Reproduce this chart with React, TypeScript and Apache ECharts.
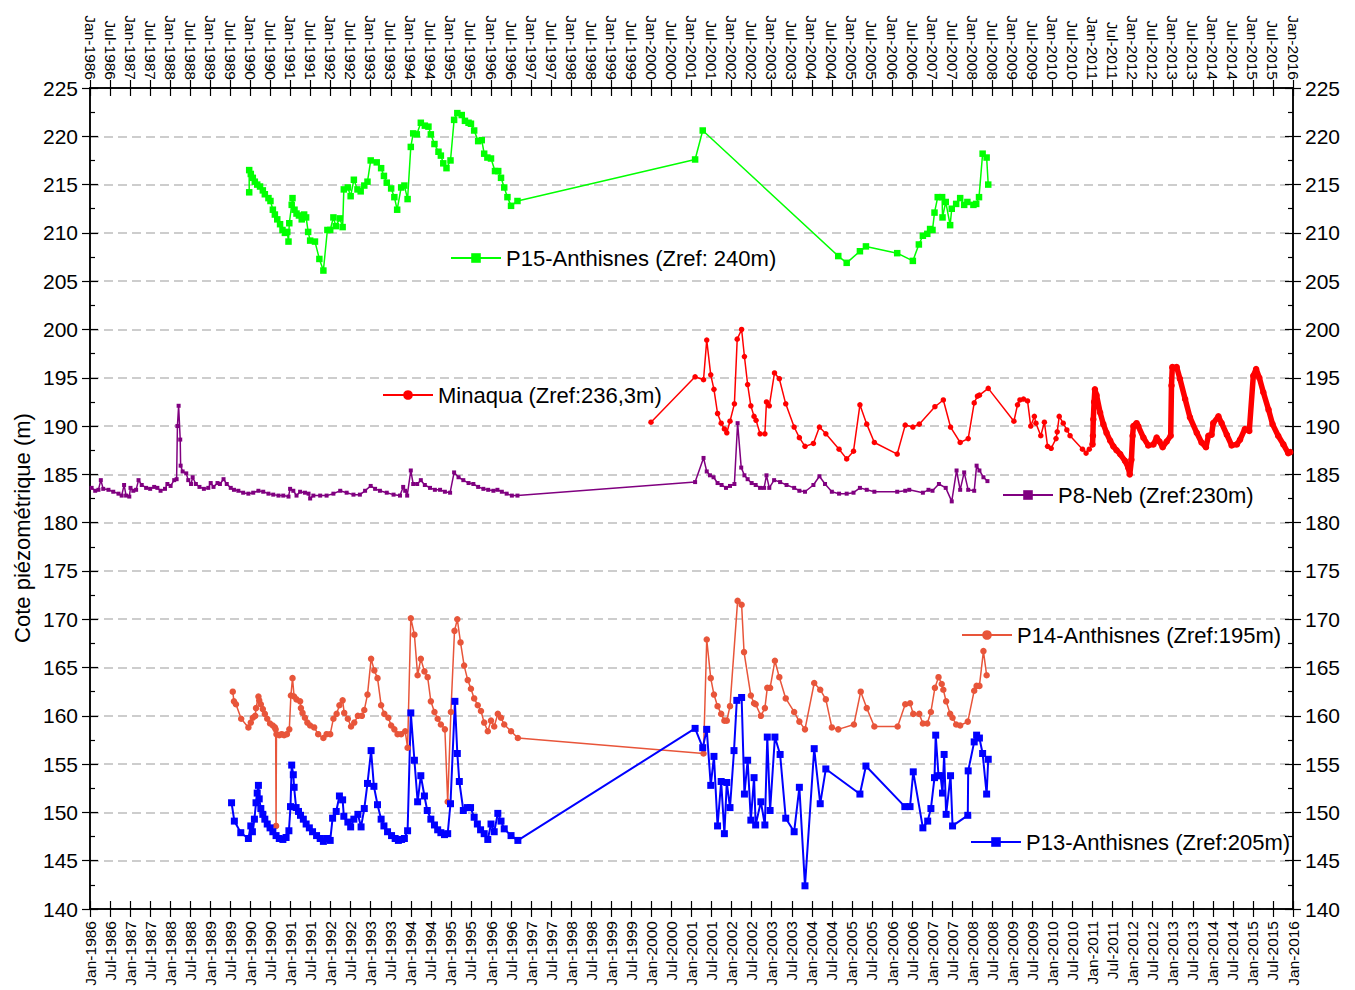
import React, { useEffect, useRef } from 'react';
import * as echarts from 'echarts';

const FONT = 'Arial, "Liberation Sans", sans-serif';

const xMin = 1986;
const xMax = 2016;
const xStep = 0.5;
const yMin = 140;
const yMax = 225;
const yStep = 5;

const yTitle = 'Cote piézométrique (m)';
const nP15 = 'P15-Anthisnes (Zref: 240m)';
const nMin = 'Minaqua (Zref:236,3m)';
const nP8 = 'P8-Neb (Zref:230m)';
const nP14 = 'P14-Anthisnes (Zref:195m)';
const nP13 = 'P13-Anthisnes (Zref:205m)';

// [decimal year, level (m)]
const p15: number[][] = [
  [1989.97, 214.2], [1989.97, 216.5], [1990.01, 216.1], [1990.06, 215.7], [1990.11, 215.3], [1990.17, 215.0], [1990.24, 214.8], [1990.31, 214.4], [1990.36, 214.0], [1990.45, 213.6],
  [1990.5, 213.3], [1990.56, 212.4], [1990.61, 211.9], [1990.67, 211.4], [1990.74, 210.9], [1990.8, 210.3], [1990.86, 210.0], [1990.92, 210.1], [1990.95, 209.1], [1990.97, 211.0],
  [1991.03, 212.9], [1991.05, 213.6], [1991.1, 212.4], [1991.15, 212.0], [1991.21, 211.8], [1991.28, 211.4], [1991.34, 211.9], [1991.39, 211.6], [1991.44, 210.1], [1991.49, 209.2],
  [1991.61, 209.1], [1991.72, 207.3], [1991.82, 206.1], [1991.92, 210.3], [1991.99, 210.3], [1992.07, 211.6], [1992.13, 210.7], [1992.23, 211.5], [1992.3, 210.6], [1992.33, 214.5],
  [1992.43, 214.7], [1992.5, 213.8], [1992.58, 215.5], [1992.67, 214.5], [1992.75, 214.3], [1992.84, 214.9], [1992.92, 215.3], [1993.0, 217.5], [1993.15, 217.3], [1993.26, 216.7],
  [1993.33, 215.9], [1993.4, 215.2], [1993.51, 214.6], [1993.59, 213.7], [1993.66, 212.4], [1993.76, 214.7], [1993.84, 214.9], [1993.92, 213.5], [1994.0, 218.9], [1994.06, 220.3],
  [1994.15, 220.2], [1994.25, 221.4], [1994.35, 221.1], [1994.44, 221.0], [1994.5, 220.2], [1994.59, 219.2], [1994.69, 218.4], [1994.75, 218.0], [1994.81, 217.2], [1994.89, 216.7],
  [1994.99, 217.5], [1995.08, 221.7], [1995.16, 222.4], [1995.27, 222.2], [1995.35, 221.6], [1995.44, 221.4], [1995.5, 221.3], [1995.58, 220.6], [1995.68, 219.5], [1995.77, 219.6],
  [1995.83, 218.2], [1995.91, 217.8], [1996.0, 217.7], [1996.1, 216.4], [1996.18, 216.4], [1996.25, 215.7], [1996.33, 214.7], [1996.41, 213.7], [1996.5, 212.8], [1996.66, 213.3],
  [2001.09, 217.6], [2001.28, 220.6], [2004.66, 207.6], [2004.87, 206.9], [2005.2, 208.1], [2005.35, 208.6], [2006.13, 207.9], [2006.52, 207.1], [2006.67, 208.8], [2006.77, 209.7],
  [2006.88, 209.9], [2006.95, 210.4], [2007.01, 210.3], [2007.06, 212.1], [2007.14, 213.7], [2007.25, 213.7], [2007.26, 211.6], [2007.34, 213.2], [2007.45, 210.8], [2007.49, 212.5],
  [2007.6, 213.0], [2007.7, 213.6], [2007.8, 212.9], [2007.88, 213.2], [2008.03, 212.9], [2008.1, 213.0], [2008.17, 213.7], [2008.26, 218.2], [2008.36, 217.8], [2008.4, 215.0],
];

const minaquaSparse: number[][] = [
  [1999.99, 190.4], [2001.09, 195.1], [2001.3, 194.8], [2001.38, 198.9], [2001.48, 195.3], [2001.56, 193.8], [2001.65, 191.3], [2001.74, 190.3], [2001.82, 189.7], [2001.88, 189.3],
  [2001.96, 190.5], [2002.07, 192.3], [2002.14, 199.0], [2002.25, 200.0], [2002.32, 197.2], [2002.4, 194.3], [2002.48, 192.1], [2002.56, 191.0], [2002.61, 190.6], [2002.71, 189.2],
  [2002.83, 189.2], [2002.87, 192.5], [2002.94, 192.1], [2003.07, 195.5], [2003.19, 194.9], [2003.35, 192.3], [2003.56, 189.9], [2003.69, 188.8], [2003.83, 187.9], [2004.04, 188.2],
  [2004.19, 189.9], [2004.35, 189.2], [2004.68, 187.6], [2004.87, 186.6], [2005.04, 187.4], [2005.2, 192.2], [2005.37, 190.2], [2005.56, 188.3], [2006.13, 187.1], [2006.33, 190.1],
  [2006.52, 189.9], [2006.68, 190.2], [2007.07, 192.0], [2007.28, 192.7], [2007.46, 189.9], [2007.7, 188.3], [2007.9, 188.7], [2008.05, 192.4], [2008.13, 193.1], [2008.18, 193.2],
  [2008.4, 193.9], [2009.04, 190.5], [2009.13, 192.2], [2009.19, 192.7], [2009.28, 192.8], [2009.38, 192.6], [2009.46, 190.0], [2009.55, 191.0], [2009.59, 190.3], [2009.71, 189.0],
  [2009.8, 190.4], [2009.88, 187.9], [2009.97, 187.7], [2010.09, 188.7], [2010.12, 189.4], [2010.17, 191.0], [2010.27, 190.3], [2010.36, 189.6], [2010.44, 189.0], [2010.75, 187.6],
  [2010.84, 187.2], [2010.92, 187.6], [2011.0, 188.1],
];

const minaquaDense: number[][] = [
  [2011.0, 188.1], [2011.01, 189.0], [2011.02, 190.7], [2011.04, 192.5], [2011.06, 193.8], [2011.1, 193.2], [2011.19, 191.4], [2011.27, 190.2], [2011.35, 189.3], [2011.44, 188.5],
  [2011.52, 187.9], [2011.6, 187.5], [2011.69, 187.1], [2011.81, 186.4], [2011.89, 185.7], [2011.93, 185.0], [2011.97, 186.5], [2012.0, 189.0], [2012.02, 190.0], [2012.1, 190.3],
  [2012.14, 190.0], [2012.27, 188.8], [2012.39, 188.0], [2012.52, 188.1], [2012.6, 188.8], [2012.67, 188.4], [2012.75, 187.8], [2012.85, 188.4], [2012.95, 189.0], [2012.97, 194.2],
  [2012.99, 196.1], [2013.1, 196.1], [2013.18, 194.9], [2013.31, 192.8], [2013.43, 190.9], [2013.6, 189.3], [2013.72, 188.3], [2013.83, 187.8], [2013.89, 189.0], [2013.97, 189.1],
  [2014.01, 190.3], [2014.14, 191.0], [2014.22, 190.3], [2014.35, 189.1], [2014.47, 188.0], [2014.6, 188.1], [2014.68, 188.6], [2014.8, 189.7], [2014.91, 189.5], [2015.01, 195.2],
  [2015.08, 195.9], [2015.16, 195.0], [2015.26, 193.5], [2015.39, 191.7], [2015.49, 190.2], [2015.63, 189.0], [2015.76, 188.1], [2015.88, 187.2], [2015.93, 187.3],
];

const p8: number[][] = [
  [1986.04, 183.6], [1986.13, 183.3], [1986.21, 183.4], [1986.27, 184.4], [1986.33, 183.5], [1986.46, 183.4], [1986.58, 183.2], [1986.71, 183.0], [1986.79, 182.8], [1986.85, 183.9],
  [1986.9, 182.8], [1986.98, 182.7], [1987.01, 183.6], [1987.08, 183.3], [1987.15, 183.4], [1987.21, 184.4], [1987.29, 183.9], [1987.4, 183.6], [1987.5, 183.5], [1987.6, 183.7],
  [1987.68, 183.6], [1987.76, 183.3], [1987.87, 183.5], [1987.93, 184.0], [1988.01, 183.8], [1988.1, 184.4], [1988.16, 184.5], [1988.18, 190.0], [1988.21, 192.1], [1988.25, 188.6],
  [1988.26, 185.9], [1988.31, 185.3], [1988.4, 185.1], [1988.45, 184.4], [1988.52, 184.0], [1988.56, 184.7], [1988.64, 184.0], [1988.73, 183.7], [1988.84, 183.5], [1988.95, 183.6],
  [1989.01, 184.1], [1989.08, 183.7], [1989.18, 184.1], [1989.24, 184.0], [1989.33, 184.5], [1989.41, 184.0], [1989.51, 183.6], [1989.59, 183.4], [1989.7, 183.3], [1989.82, 183.1],
  [1989.95, 183.0], [1990.07, 183.1], [1990.2, 183.3], [1990.32, 183.2], [1990.45, 183.0], [1990.57, 182.9], [1990.7, 182.8], [1990.82, 182.8], [1990.95, 182.7], [1990.99, 183.5],
  [1991.07, 183.3], [1991.15, 182.8], [1991.24, 183.2], [1991.36, 183.1], [1991.45, 183.0], [1991.49, 182.5], [1991.57, 182.8], [1991.74, 182.8], [1991.9, 182.8], [1992.07, 183.0],
  [1992.24, 183.3], [1992.4, 183.1], [1992.57, 182.9], [1992.73, 182.9], [1992.86, 183.3], [1993.0, 183.8], [1993.11, 183.5], [1993.23, 183.3], [1993.4, 183.1], [1993.57, 182.9],
  [1993.73, 182.8], [1993.81, 183.7], [1993.86, 183.3], [1993.91, 182.8], [1994.0, 185.4], [1994.06, 184.0], [1994.16, 184.0], [1994.25, 184.4], [1994.35, 183.9], [1994.48, 183.6],
  [1994.6, 183.4], [1994.73, 183.4], [1994.85, 183.2], [1994.98, 183.1], [1995.08, 185.2], [1995.19, 184.7], [1995.31, 184.4], [1995.44, 184.1], [1995.56, 184.0], [1995.68, 183.7],
  [1995.81, 183.5], [1995.93, 183.4], [1996.06, 183.3], [1996.16, 183.4], [1996.27, 183.2], [1996.39, 183.0], [1996.52, 182.8], [1996.66, 182.8],
  [2001.09, 184.2], [2001.3, 186.7], [2001.38, 185.3], [2001.46, 184.9], [2001.55, 184.7], [2001.65, 184.1], [2001.75, 183.9], [2001.86, 183.6], [2001.96, 183.8], [2002.07, 184.0],
  [2002.15, 190.3], [2002.24, 185.7], [2002.32, 184.9], [2002.4, 184.5], [2002.5, 184.1], [2002.6, 183.9], [2002.71, 183.6], [2002.81, 183.6], [2002.87, 184.9], [2002.94, 183.6],
  [2003.06, 184.4], [2003.21, 184.2], [2003.37, 183.9], [2003.56, 183.6], [2003.69, 183.3], [2003.83, 183.2], [2004.04, 183.9], [2004.19, 184.8], [2004.33, 184.0], [2004.5, 183.2],
  [2004.68, 183.0], [2004.87, 183.0], [2005.04, 183.1], [2005.2, 183.6], [2005.37, 183.4], [2005.56, 183.2], [2006.13, 183.2], [2006.33, 183.3], [2006.43, 183.4], [2006.77, 183.1],
  [2006.91, 183.4], [2007.01, 183.3], [2007.17, 184.0], [2007.34, 183.6], [2007.49, 182.2], [2007.61, 185.4], [2007.7, 183.4], [2007.8, 185.2], [2007.9, 183.4], [2008.05, 183.3],
  [2008.11, 185.9], [2008.18, 185.4], [2008.28, 184.7], [2008.38, 184.3],
];

const p14: number[][] = [
  [1989.56, 162.5], [1989.59, 161.5], [1989.64, 161.2], [1989.77, 159.7], [1989.95, 158.8], [1990.01, 159.3], [1990.06, 159.8], [1990.12, 160.0], [1990.14, 160.8], [1990.2, 162.0],
  [1990.22, 161.6], [1990.26, 161.2], [1990.31, 160.7], [1990.36, 160.2], [1990.42, 159.7], [1990.49, 159.2], [1990.56, 159.0], [1990.61, 158.8], [1990.63, 158.6], [1990.64, 148.6],
  [1990.65, 158.1], [1990.72, 158.0], [1990.78, 158.1], [1990.84, 158.0], [1990.91, 158.1], [1990.97, 158.6], [1991.01, 162.1], [1991.05, 163.9], [1991.09, 162.0], [1991.15, 161.7],
  [1991.24, 161.5], [1991.26, 160.8], [1991.3, 160.3], [1991.36, 159.8], [1991.42, 159.3], [1991.49, 159.0], [1991.59, 158.8], [1991.69, 158.1], [1991.82, 157.7], [1991.9, 158.1],
  [1991.99, 158.1], [1992.07, 159.7], [1992.15, 160.2], [1992.22, 161.1], [1992.3, 161.6], [1992.34, 160.3], [1992.43, 159.7], [1992.51, 158.9], [1992.59, 159.3], [1992.68, 160.0],
  [1992.78, 160.0], [1992.84, 160.6], [1992.92, 162.2], [1993.01, 165.9], [1993.09, 164.7], [1993.17, 163.9], [1993.26, 161.1], [1993.34, 160.2], [1993.44, 159.8], [1993.51, 159.0],
  [1993.59, 158.6], [1993.67, 158.1], [1993.76, 158.1], [1993.86, 158.4], [1993.92, 156.7], [1994.0, 170.1], [1994.09, 168.4], [1994.17, 164.2], [1994.25, 165.9], [1994.34, 164.6],
  [1994.42, 164.0], [1994.5, 161.5], [1994.59, 160.4], [1994.67, 159.7], [1994.75, 159.1], [1994.85, 158.6], [1994.92, 151.1], [1995.0, 160.4], [1995.09, 168.8], [1995.16, 170.0],
  [1995.24, 167.6], [1995.33, 165.2], [1995.42, 163.7], [1995.5, 162.8], [1995.58, 161.8], [1995.67, 161.1], [1995.75, 160.5], [1995.83, 159.3], [1995.92, 158.4], [1996.0, 159.5],
  [1996.08, 158.9], [1996.17, 160.2], [1996.25, 159.8], [1996.33, 159.1], [1996.5, 158.4], [1996.67, 157.7],
  [2001.3, 156.1], [2001.38, 167.9], [2001.48, 163.9], [2001.56, 162.2], [2001.65, 161.0], [2001.74, 160.2], [2001.82, 159.5], [2001.88, 159.5], [2001.96, 161.0], [2002.15, 171.9],
  [2002.25, 171.5], [2002.31, 166.6], [2002.48, 162.1], [2002.56, 161.3], [2002.6, 161.2], [2002.73, 160.0], [2002.83, 160.8], [2002.89, 162.9], [2002.96, 162.9], [2003.08, 165.7],
  [2003.19, 164.0], [2003.35, 161.8], [2003.56, 160.4], [2003.69, 159.4], [2003.83, 158.6], [2004.06, 163.4], [2004.21, 162.7], [2004.35, 161.7], [2004.5, 158.8], [2004.66, 158.6],
  [2005.05, 159.1], [2005.22, 162.5], [2005.37, 160.8], [2005.56, 158.9], [2006.14, 158.9], [2006.33, 161.2], [2006.45, 161.3], [2006.53, 160.2], [2006.68, 160.2], [2006.77, 159.2],
  [2006.88, 159.2], [2006.97, 160.4], [2007.07, 162.9], [2007.16, 164.0], [2007.24, 163.3], [2007.28, 162.7], [2007.35, 161.5], [2007.45, 160.2], [2007.51, 159.8], [2007.6, 159.1],
  [2007.7, 159.0], [2007.89, 159.4], [2008.05, 162.6], [2008.11, 163.1], [2008.18, 163.1], [2008.28, 166.7], [2008.36, 164.2],
];

const p13: number[][] = [
  [1989.53, 151.0], [1989.6, 149.1], [1989.76, 147.9], [1989.95, 147.3], [1990.01, 148.6], [1990.05, 148.0], [1990.1, 149.3], [1990.14, 151.0], [1990.17, 152.0], [1990.2, 152.8],
  [1990.22, 151.4], [1990.26, 150.4], [1990.31, 149.8], [1990.36, 149.3], [1990.42, 148.8], [1990.49, 148.4], [1990.56, 148.0], [1990.64, 147.6], [1990.72, 147.3], [1990.81, 147.2],
  [1990.89, 147.4], [1990.96, 148.1], [1991.0, 150.6], [1991.03, 154.9], [1991.07, 153.9], [1991.09, 152.6], [1991.14, 150.5], [1991.2, 150.1], [1991.25, 149.7], [1991.32, 149.3],
  [1991.39, 148.8], [1991.47, 148.4], [1991.55, 148.0], [1991.65, 147.6], [1991.74, 147.3], [1991.82, 147.0], [1991.9, 147.3], [1991.99, 147.1], [1992.05, 149.4], [1992.14, 150.1],
  [1992.22, 151.7], [1992.3, 151.3], [1992.33, 149.6], [1992.43, 149.0], [1992.5, 148.5], [1992.58, 149.3], [1992.68, 149.8], [1992.76, 148.5], [1992.84, 150.4], [1992.92, 153.0],
  [1993.01, 156.4], [1993.08, 152.7], [1993.17, 150.8], [1993.26, 149.3], [1993.33, 148.6], [1993.42, 148.0], [1993.52, 147.6], [1993.61, 147.3], [1993.69, 147.1], [1993.77, 147.2],
  [1993.84, 147.3], [1993.92, 148.1], [1994.0, 160.3], [1994.09, 155.4], [1994.17, 151.1], [1994.25, 153.8], [1994.34, 151.7], [1994.41, 150.2], [1994.5, 149.3], [1994.59, 148.7],
  [1994.67, 148.2], [1994.75, 147.9], [1994.84, 147.7], [1994.92, 147.8], [1994.99, 150.9], [1995.1, 161.5], [1995.16, 156.1], [1995.21, 153.2], [1995.31, 150.2], [1995.41, 150.5],
  [1995.49, 150.5], [1995.58, 149.5], [1995.66, 148.8], [1995.74, 148.2], [1995.83, 147.8], [1995.92, 147.2], [1996.0, 148.8], [1996.08, 148.0], [1996.17, 149.9], [1996.25, 149.1],
  [1996.33, 148.3], [1996.5, 147.6], [1996.67, 147.1],
  [2001.09, 158.7], [2001.28, 156.7], [2001.38, 158.6], [2001.48, 152.8], [2001.56, 155.8], [2001.65, 148.6], [2001.74, 153.2], [2001.82, 147.8], [2001.88, 153.1], [2001.96, 150.5],
  [2002.06, 156.4], [2002.13, 161.6], [2002.25, 161.9], [2002.32, 151.9], [2002.4, 155.4], [2002.48, 149.2], [2002.56, 153.6], [2002.6, 148.7], [2002.73, 151.1], [2002.83, 148.7],
  [2002.89, 157.8], [2002.96, 150.2], [2003.08, 157.8], [2003.21, 156.0], [2003.35, 149.4], [2003.56, 148.0], [2003.69, 152.6], [2003.83, 142.4], [2004.06, 156.6], [2004.21, 150.9],
  [2004.35, 154.5], [2005.2, 151.9], [2005.35, 154.8], [2006.32, 150.6], [2006.45, 150.6], [2006.53, 154.2], [2006.77, 148.4], [2006.89, 149.1], [2006.97, 150.4], [2007.06, 153.6],
  [2007.09, 158.0], [2007.16, 153.8], [2007.21, 153.8], [2007.26, 152.0], [2007.3, 156.0], [2007.35, 149.8], [2007.46, 153.8], [2007.51, 148.6], [2007.89, 149.7], [2007.9, 154.3],
  [2008.05, 157.3], [2008.11, 158.0], [2008.18, 157.7], [2008.26, 156.1], [2008.36, 151.9], [2008.4, 155.5],
];

function dateLabel(v: number): string {
  const h = Math.round(v * 2);
  return (h % 2 === 0 ? 'Jan-' : 'Jul-') + Math.floor(h / 2);
}

export default function App() {
  const ref = useRef<HTMLDivElement>(null);
  useEffect(() => {
    const chart = echarts.init(ref.current as HTMLDivElement, null, { renderer: 'svg' });
    const axisLine = { show: true, lineStyle: { color: '#000', width: 1.5 } };
    const tickLine = { color: '#000', width: 1.2 };
    const xBase = {
      type: 'value', min: xMin, max: xMax, interval: xStep,
      axisLine, splitLine: { show: false },
    };
    const xLabel = (margin: number) => ({
      show: true, rotate: 90, margin, fontSize: 15.5, fontFamily: FONT, color: '#000',
      formatter: (v: number) => dateLabel(v),
    });
    const yBase = {
      type: 'value', min: yMin, max: yMax, interval: yStep, axisLine,
    };
    const yLabel = { show: true, margin: 12, fontSize: 21, fontFamily: FONT, color: '#000' };
    const legendCommon = {
      orient: 'horizontal', padding: 0, itemWidth: 50, itemHeight: 12, itemGap: 0,
      textStyle: { fontSize: 22, fontFamily: FONT, color: '#000' },
      selectedMode: false,
    };
    const option = {
      animation: false,
      backgroundColor: '#fff',
      grid: { left: 90, right: 62, top: 88, bottom: 81, containLabel: false },
      xAxis: [
        { ...xBase, position: 'bottom', axisLabel: xLabel(12), axisTick: { show: true, length: 8, lineStyle: tickLine } },
        { ...xBase, position: 'top', axisLabel: xLabel(8), axisTick: { show: true, length: 8, lineStyle: tickLine } },
        { ...xBase, position: 'bottom', axisLabel: { show: false }, axisTick: { show: true, inside: true, length: 8, lineStyle: tickLine } },
        { ...xBase, position: 'top', axisLabel: { show: false }, axisTick: { show: true, inside: true, length: 8, lineStyle: tickLine } },
      ],
      yAxis: [
        {
          ...yBase, position: 'left', axisLabel: yLabel,
          axisTick: { show: true, length: 8, lineStyle: tickLine },
          splitLine: { show: true, lineStyle: { color: '#BDBDBD', width: 1.5, type: [9, 5] } },
        },
        {
          ...yBase, position: 'left', axisLabel: { show: false }, splitLine: { show: false },
          axisTick: { show: true, inside: true, length: 8, lineStyle: tickLine },
          minorTick: { show: true, splitNumber: 2, length: 5, lineStyle: tickLine },
        },
        {
          ...yBase, position: 'right', axisLabel: yLabel, splitLine: { show: false },
          axisTick: { show: true, length: 8, lineStyle: tickLine },
        },
        {
          ...yBase, position: 'right', axisLabel: { show: false }, splitLine: { show: false },
          axisTick: { show: true, inside: true, length: 8, lineStyle: tickLine },
          minorTick: { show: true, splitNumber: 2, length: 5, lineStyle: tickLine },
        },
      ],
      legend: [
        { ...legendCommon, data: [nP15], left: 450, top: 247 },
        { ...legendCommon, data: [nMin], left: 382, top: 384 },
        { ...legendCommon, data: [nP8], left: 1002, top: 484 },
        { ...legendCommon, data: [nP14], left: 961, top: 624 },
        { ...legendCommon, data: [nP13], left: 970, top: 831 },
      ],
      graphic: [
        {
          type: 'text', x: 22, y: 528, rotation: Math.PI / 2,
          style: {
            text: yTitle, fontSize: 22, fontFamily: FONT, fill: '#000',
            align: 'center', verticalAlign: 'middle',
          },
        },
      ],
      series: [
        {
          name: nP15, type: 'line', data: p15, color: '#00FF00',
          symbol: 'rect', symbolSize: 6.5, showAllSymbol: true,
          lineStyle: { width: 1.5 }, z: 3,
        },
        {
          name: nMin, type: 'line', data: minaquaSparse, color: '#FF0000',
          symbol: 'circle', symbolSize: 5.5, showAllSymbol: true,
          lineStyle: { width: 1.5 }, z: 3,
        },
        {
          name: nMin, type: 'line', data: minaquaDense, color: '#FF0000',
          symbol: 'circle', symbolSize: 6.5, showAllSymbol: true,
          lineStyle: { width: 5.5 }, z: 3,
        },
        {
          name: nP8, type: 'line', data: p8, color: '#800080',
          symbol: 'rect', symbolSize: 4, showAllSymbol: true,
          lineStyle: { width: 1.5 }, z: 3,
        },
        {
          name: nP14, type: 'line', data: p14, color: '#E8553A',
          symbol: 'circle', symbolSize: 6.5, showAllSymbol: true,
          lineStyle: { width: 1.5 }, z: 3,
        },
        {
          name: nP13, type: 'line', data: p13, color: '#0000FF',
          symbol: 'rect', symbolSize: 7, showAllSymbol: true,
          lineStyle: { width: 2 }, z: 3,
        },
      ],
    };
    chart.setOption(option as any);
    return () => chart.dispose();
  }, []);
  return (
    <div
      ref={ref}
      style={{ position: 'absolute', left: 0, top: 0, width: 1355, height: 990, background: '#fff' }}
    />
  );
}
